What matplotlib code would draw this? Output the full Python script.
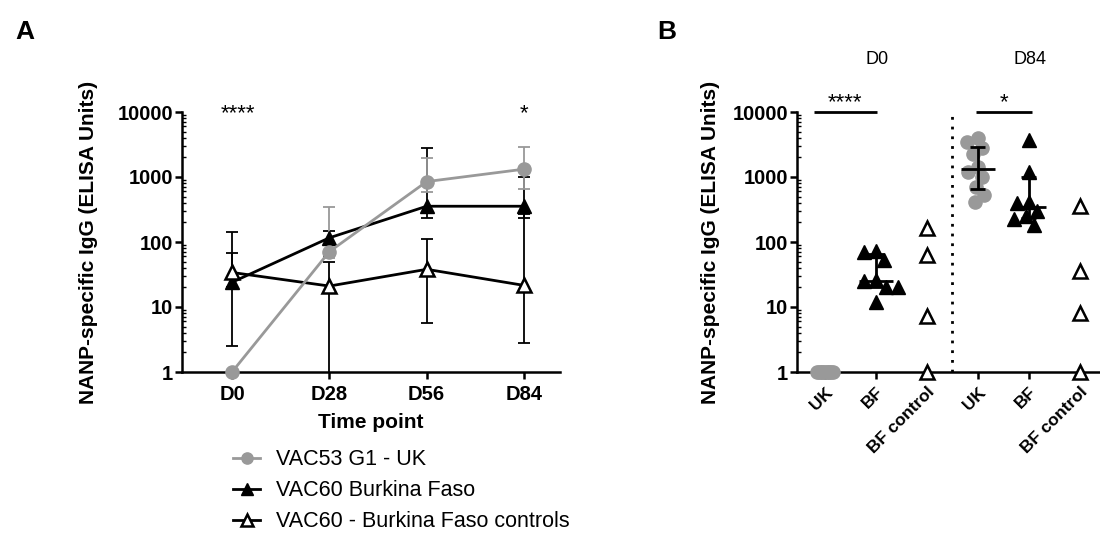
import numpy as np
import matplotlib
matplotlib.use("Agg")
import matplotlib.pyplot as plt
from matplotlib.ticker import LogLocator, FixedLocator, NullFormatter

plt.rcParams['font.family'] = ['Liberation Sans', 'DejaVu Sans']

# ---------------- Data ----------------
timepoints = ["D0", "D28", "D56", "D84"]
uk_med = [1, 71, 850, 1320]
uk_lo = [1, 57, 590, 665]
uk_hi = [1, 348, 1980, 2920]
bf_med = [24, 116, 355, 355]
bf_lo = [20.6, 60, 237, 233]
bf_hi = [68, 147, 2760, 1000]
ctrl_med = [34, 21, 38, 21.5]
ctrl_lo = [2.5, 0.1, 5.7, 2.75]
ctrl_hi = [142, 50, 111, 271]

b_categories = ["UK", "BF", "BF control", "UK", "BF", "BF control"]
d0_uk = [1, 1, 1, 1, 1, 1, 1, 1, 1, 1]
d0_bf = [70, 73, 53, 26, 25, 20.6, 20.6, 12]
d0_ctrl = [164, 62, 7.2, 1]
d84_uk = [3960, 3400, 2760, 2230, 1440, 1200, 1000, 710, 530, 418]
d84_bf = [3700, 1200, 408, 400, 300, 253, 226, 182]
d84_ctrl = [354, 35.5, 8.1, 1]

legend_labels = ["VAC53 G1 - UK", "VAC60 Burkina Faso", "VAC60 - Burkina Faso controls"]

GREY = '#999999'
TFS = 14.5   # tick labels
LFS = 15     # axis titles
SFS = 16     # stars

fig = plt.figure(figsize=(11, 5.6), dpi=100)


def style_log_axis(ax):
    ax.set_yscale('log')
    ax.set_ylim(1, 10000)
    ax.yaxis.set_major_locator(FixedLocator([1, 10, 100, 1000, 10000]))
    ax.set_yticklabels(["1", "10", "100", "1000", "10000"])
    ax.yaxis.set_minor_locator(LogLocator(base=10, subs=np.arange(2, 10)))
    ax.yaxis.set_minor_formatter(NullFormatter())
    for s in ['top', 'right']:
        ax.spines[s].set_visible(False)
    for s in ['left', 'bottom']:
        ax.spines[s].set_linewidth(1.8)
    ax.tick_params(axis='y', which='major', direction='out', length=5, width=1.8,
                   labelsize=TFS, pad=1.5)
    ax.tick_params(axis='y', which='minor', direction='in', length=3, width=1.0)
    ax.tick_params(axis='x', which='major', direction='out', length=5, width=1.8,
                   labelsize=TFS)
    for lab in ax.get_yticklabels():
        lab.set_fontweight('bold')


# ---------------- Panel A ----------------
axA = fig.add_axes([182 / 1100, 1 - 372 / 560, (560 - 182) / 1100, 260 / 560])
style_log_axis(axA)
xA = np.arange(len(timepoints))


def eb(ax, x, med, lo, hi, color):
    med = np.array(med, float); lo = np.array(lo, float); hi = np.array(hi, float)
    ax.errorbar(x, med, yerr=[med - lo, hi - med], fmt='none', ecolor=color,
                elinewidth=1.3, capsize=4.5, capthick=1.3, zorder=2)


eb(axA, xA, bf_med, bf_lo, bf_hi, 'black')
eb(axA, xA, ctrl_med, ctrl_lo, ctrl_hi, 'black')
eb(axA, xA, uk_med, uk_lo, uk_hi, GREY)

l_bf, = axA.plot(xA, bf_med, color='black', lw=2, marker='^', ms=9.5,
                 mfc='black', mec='black', clip_on=False, zorder=3)
l_ctrl, = axA.plot(xA, ctrl_med, color='black', lw=2, marker='^', ms=9.5,
                   mfc='white', mec='black', mew=1.8, clip_on=False, zorder=4)
l_uk, = axA.plot(xA, uk_med, color=GREY, lw=2, marker='o', ms=9.5,
                 mfc=GREY, mec=GREY, clip_on=False, zorder=5)

axA.set_xlim(-0.514, 3.37)
axA.set_xticks(xA)
axA.set_xticklabels(timepoints, fontweight='bold')
axA.tick_params(axis='x', pad=4)
axA.set_xlabel("Time point", fontsize=LFS, fontweight='bold', labelpad=7)
axA.set_ylabel("NANP-specific IgG (ELISA Units)", fontsize=LFS, fontweight='bold',
               labelpad=14)
axA.text(0.06, 10 ** 3.815, "****", fontsize=SFS, ha='center', va='bottom')
axA.text(3, 10 ** 3.815, "*", fontsize=SFS, ha='center', va='bottom')

fig.text(25 / 1100, 1 - 32 / 560, "A", fontsize=19, fontweight='bold',
         ha='center', va='center')

# legend
fig.legend([l_uk, l_bf, l_ctrl], legend_labels, loc='upper left',
           bbox_to_anchor=(214 / 1100, 1 - 430 / 560), frameon=False,
           fontsize=15.5, handlelength=1.25, labelspacing=0.46, handletextpad=0.75,
           markerscale=0.85)

# ---------------- Panel B ----------------
axB = fig.add_axes([797 / 1100, 1 - 372 / 560, (1100 - 797) / 1100, 260 / 560])
style_log_axis(axB)
axB.set_xlim(-0.55, 5.4)
xB = np.arange(len(b_categories))
axB.set_xticks(xB)
axB.set_xticklabels(b_categories, rotation=45, ha='right', rotation_mode='anchor',
                    fontweight='bold', fontsize=12.5)
axB.tick_params(axis='x', pad=4)
axB.set_ylabel("NANP-specific IgG (ELISA Units)", fontsize=LFS, fontweight='bold',
               labelpad=9)

PX_X = 51.0    # pixels per category unit
PX_DEC = 65.0  # pixels per decade


def swarm_offsets(vals, diam):
    ys = np.log10(np.asarray(vals, float)) * PX_DEC
    n = len(ys)
    offs = np.zeros(n)
    placed = []
    cands = [0.0]
    for k in np.arange(0.5, 80, 0.5):
        cands += [-k, k]
    for i in np.argsort(-ys):
        for c in cands:
            if all((c - offs[j]) ** 2 + (ys[i] - ys[j]) ** 2 >= diam ** 2 for j in placed):
                offs[i] = c
                break
        placed.append(i)
    return offs / PX_X


groups = [
    (0, d0_uk, 'o', GREY, GREY, True),
    (1, d0_bf, '^', 'black', 'black', True),
    (2, d0_ctrl, '^', 'white', 'black', False),
    (3, d84_uk, 'o', GREY, GREY, True),
    (4, d84_bf, '^', 'black', 'black', True),
    (5, d84_ctrl, '^', 'white', 'black', False),
]
for pos, vals, mk, fc, ec, summ in groups:
    if len(set(vals)) == 1:
        offs = np.linspace(-8, 8, len(vals)) / PX_X
    else:
        offs = swarm_offsets(vals, 11.0 if mk == 'o' else 12.0)
    axB.plot(pos + offs, vals, linestyle='none', marker=mk,
             ms=9.5 if mk == 'o' else 10.5,
             mfc=fc, mec=ec, mew=1.8 if fc == 'white' else 1.0, clip_on=False, zorder=4)
    if summ:
        q1, med, q3 = np.percentile(vals, [25, 50, 75], method='weibull')
        if q3 > q1:
            axB.hlines(med, pos - 0.33, pos + 0.33, color='black', lw=2, zorder=5)
            axB.hlines([q1, q3], pos - 0.15, pos + 0.15, color='black', lw=2, zorder=5)
            axB.vlines(pos, q1, q3, color='black', lw=2, zorder=5)

axB.vlines(2.5, 1, 10000, color='black', lw=2, linestyles=(0, (1, 2.5)), zorder=3)

# significance bars
axB.plot([-0.22, 1.02], [10000, 10000], color='black', lw=2, clip_on=False,
         solid_capstyle='butt')
axB.text(0.39, 10 ** 3.985, "****", fontsize=SFS, ha='center', va='bottom')
axB.plot([2.96, 4.07], [10000, 10000], color='black', lw=2, clip_on=False,
         solid_capstyle='butt')
axB.text(3.51, 10 ** 3.985, "*", fontsize=SFS, ha='center', va='bottom')

fig.text(877 / 1100, 1 - 60 / 560, "D0", fontsize=13, ha='center', va='center')
fig.text(1030 / 1100, 1 - 60 / 560, "D84", fontsize=13, ha='center', va='center')
fig.text(667 / 1100, 1 - 32 / 560, "B", fontsize=19, fontweight='bold',
         ha='center', va='center')

fig.savefig("out.png", dpi=100)
